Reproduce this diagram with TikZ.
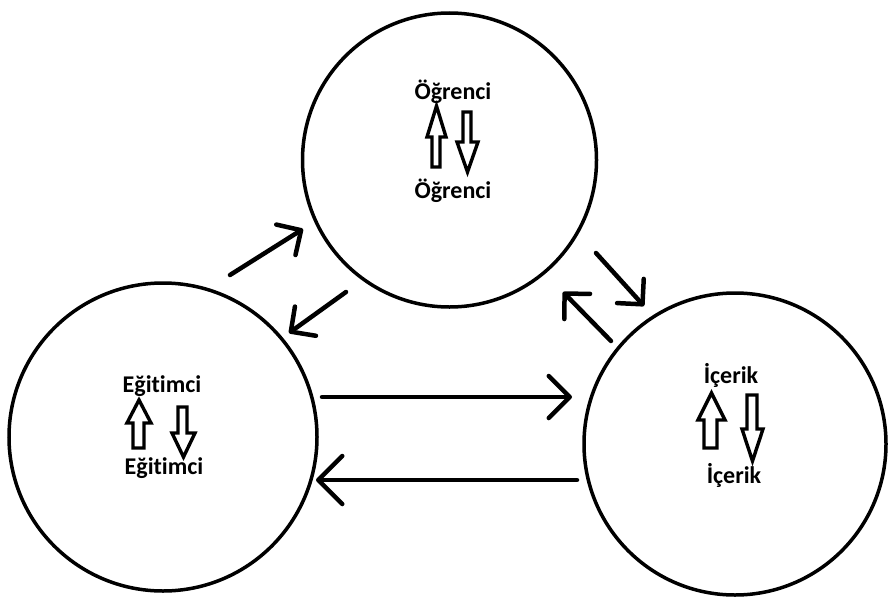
\documentclass[tikz,border=0pt]{standalone}
\usepackage{fontspec}
\setmainfont{Carlito}[Ligatures={NoCommon}]
\usetikzlibrary{arrows.meta}
\begin{document}
\begin{tikzpicture}[x=1pt,y=-1pt,
  ring/.style={circle,draw,line width=3.5pt,minimum size=#1,inner sep=0pt},
  flow/.style={line width=4.5pt,line cap=round,
    -{Straight Barb[length=#1,width=2*#1,line width=4.5pt,round]}},
  flow/.default=18pt,
  word/.style={font=\bfseries\fontsize{24}{24}\selectfont,inner sep=0pt},
  block/.style={draw,line width=3.4pt,line join=miter,fill=white}]
\useasboundingbox[fill=white] (0,0) rectangle (889,597);

% the three circles
\node[ring=294pt] (ogr) at (449.5,160) {};
\node[ring=308pt] (egt) at (163,437) {};
\node[ring=302pt] (icr) at (735,444) {};

% texts inside the circles
\node[word] (ogrA) at (453,92) {Öğrenci};
\node[word] (ogrB) at (453,191) {Öğrenci};
\node[word] (egtA) at (162,386) {Eğitimci};
\node[word] (egtB) at (164,468) {Eğitimci};
\node[word] (icrA) at (731,375) {İçerik};
\node[word] (icrB) at (734,475) {İçerik};

% hollow block arrows
\draw[block] (436.5,106) -- (446,137) -- (440,137) -- (440,167) -- (432,167) -- (432,137) -- (427,137) -- cycle;
\draw[block] (463,112) -- (471,112) -- (471,142) -- (478,142) -- (467.5,172) -- (457,142) -- (463,142) -- cycle;
\draw[block] (139,400) -- (151,423) -- (144,423) -- (144,448) -- (133,448) -- (133,423) -- (127,423) -- cycle;
\draw[block] (178,407) -- (187,407) -- (187,433) -- (195,433) -- (183.5,457) -- (172,433) -- (178,433) -- cycle;
\draw[block] (711.5,393) -- (725,420) -- (717,420) -- (717,448) -- (704,448) -- (704,420) -- (698,420) -- cycle;
\draw[block] (747,395) -- (757,395) -- (757,429) -- (763,429) -- (752.5,461) -- (742,429) -- (747,429) -- cycle;

% end points of the connectors between the circles
\coordinate (e1s) at (230,275);  \coordinate (e1t) at (303,229);
\coordinate (e2s) at (346,292);  \coordinate (e2t) at (289,333);
\coordinate (i1s) at (596,253);  \coordinate (i1t) at (644,306);
\coordinate (i2s) at (611,341);  \coordinate (i2t) at (563,292);
\coordinate (h1s) at (322,397);  \coordinate (h1t) at (572,397);
\coordinate (h2s) at (577,480);  \coordinate (h2t) at (316,480);

\draw[flow] (e1s) -- (e1t);
\draw[flow] (e2s) -- (e2t);
\draw[flow] (i1s) -- (i1t);
\draw[flow] (i2s) -- (i2t);
\draw[flow=21pt] (h1s) -- (h1t);
\draw[flow=24pt] (h2s) -- (h2t);
\end{tikzpicture}
\end{document}
